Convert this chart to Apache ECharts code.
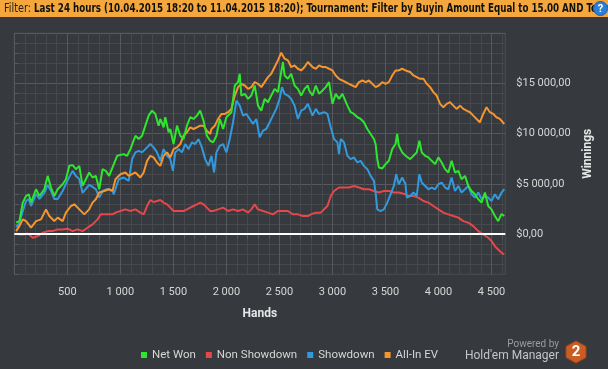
<!DOCTYPE html>
<html><head><meta charset="utf-8">
<script src="https://cdn.jsdelivr.net/npm/echarts@6/dist/echarts.min.js"></script>
<style>html,body{margin:0;padding:0;background:#36393d;}#c{width:608px;height:369px;}</style>
</head><body><div id="c"></div><script>
// ---------- DATA ----------
const seriesNames = ['Net Won', 'Non Showdown', 'Showdown', 'All-In EV'];
const xTickLabels = ['500', '1 000', '1 500', '2 000', '2 500', '3 000', '3 500', '4 000', '4 500'];
const yTickLabels = ['$0,00', '$5 000,00', '$10 000,00', '$15 000,00'];
const filterLabel = 'Filter:';
const filterText = 'Last 24 hours (10.04.2015 18:20 to 11.04.2015 18:20); Tournament: Filter by Buyin Amount Equal to 15.00 AND Tournament';

const netWonHands = [17,48,80,111,136,158,205,237,283,315,346,377,409,456,487,519,550,581,613,644,675,706,738,769,801,832,863,894,907,970,1032,1064,1095,1142,1173,1205,1236,1267,1299,1330,1361,1377,1408,1424,1455,1471,1502,1534,1565,1596,1628,1659,1690,1722,1753,1784,1816,1847,1875,1906,1938,1969,2000,2047,2079,2110,2126,2141,2173,2204,2235,2267,2298,2329,2361,2392,2423,2455,2486,2517,2533,2549,2580,2611,2643,2674,2705,2737,2768,2780,2812,2843,2874,2906,2937,2968,3000,3031,3062,3094,3109,3141,3172,3203,3235,3266,3297,3329,3360,3391,3407,3423,3438,3470,3501,3532,3564,3595,3610,3626,3658,3689,3701,3733,3764,3795,3820,3842,3874,3905,3936,3968,3999,4030,4062,4093,4124,4156,4187,4218,4250,4281,4312,4344,4375,4406,4438,4469,4500,4532,4563,4595,4620];
const netWonValues = [1140,1300,3140,3800,3970,3170,4470,3800,4470,5800,4640,3800,4470,4970,5470,6800,6870,6470,6800,4800,5470,6140,5640,5800,4470,6470,6300,5800,5970,7800,7970,7800,8470,9800,9470,9800,10800,11800,12300,11970,10800,11470,10640,11640,10140,10470,8970,10800,9800,9470,10800,11640,11470,11800,12300,11300,9800,9300,9140,9800,11470,10470,11640,12140,14800,15140,15970,13800,13970,13470,13800,14800,12800,12300,13470,13140,13800,14470,14140,16140,17140,15800,15470,15970,14800,14470,13800,14470,14800,14300,13800,14800,13970,14300,14640,15140,12970,13970,13470,13970,14140,12800,12140,11970,11640,11470,11140,10470,9970,9470,8970,7470,6640,6540,6970,7300,8470,8970,9970,8800,8140,7800,7640,7470,7800,8140,9300,8140,7800,7640,7300,6970,7640,7140,6470,6140,7300,6140,6300,5470,5800,4800,4300,3970,3470,3140,4140,2800,2470,1800,1300,2000,1800];

const nonShowdownHands = [17,48,80,127,174,221,268,315,362,409,456,503,550,597,644,691,738,785,816,863,926,954,1001,1048,1095,1142,1189,1220,1252,1283,1314,1346,1377,1408,1440,1471,1502,1534,1565,1596,1628,1659,1690,1722,1753,1784,1816,1847,1875,1922,1969,2016,2063,2110,2157,2204,2235,2267,2298,2345,2392,2439,2486,2533,2580,2627,2674,2721,2768,2796,2843,2890,2921,2953,2984,3015,3062,3109,3156,3203,3250,3297,3344,3391,3438,3485,3532,3579,3626,3689,3717,3764,3811,3858,3905,3952,3999,4046,4093,4140,4187,4234,4281,4328,4375,4422,4469,4500,4532,4563,4595,4620];
const nonShowdownValues = [70,-30,-30,70,-360,-200,140,300,300,470,470,540,300,470,300,640,970,1470,1970,1970,1970,2140,2300,2470,2300,2470,2140,1970,2800,3400,3200,3300,3400,3140,2970,2640,2300,2300,2300,2300,2470,2640,2800,2970,3140,2970,2640,2300,2300,2470,2640,2300,2470,2300,2470,2140,2470,2970,2470,2300,2140,1970,2300,2300,2300,1970,1970,1800,1800,1970,2140,2140,2470,2800,3800,4300,4640,4640,4640,4800,4640,4470,4470,4300,4140,4300,4300,4140,4140,3970,3800,3800,3640,3300,3140,2800,2470,2140,1970,1800,1640,1300,1140,800,300,-30,-360,-700,-1200,-1530,-1860,-2030];

const showdownHands = [17,48,80,111,136,158,205,237,283,315,346,377,409,456,487,519,550,581,613,644,660,706,738,769,801,832,879,926,938,985,1032,1079,1111,1142,1173,1205,1236,1283,1314,1346,1377,1408,1440,1471,1496,1518,1549,1581,1612,1643,1675,1706,1737,1769,1800,1831,1859,1884,1906,1938,1969,2000,2032,2063,2094,2126,2157,2188,2220,2251,2282,2314,2345,2376,2408,2439,2470,2502,2524,2549,2580,2611,2643,2674,2705,2737,2768,2780,2812,2843,2874,2921,2953,2984,3015,3047,3062,3078,3109,3141,3172,3203,3235,3266,3297,3329,3360,3391,3407,3423,3454,3485,3517,3548,3579,3601,3626,3658,3689,3701,3733,3764,3795,3820,3842,3874,3905,3936,3968,3999,4030,4062,4093,4124,4156,4187,4218,4250,4281,4312,4344,4375,4406,4438,4469,4500,4532,4563,4595,4620];
const showdownValues = [700,1100,2300,3300,3500,2800,4000,3500,4100,4900,4300,3500,3500,4300,5000,5700,6300,5800,5500,4100,3970,4900,4700,4470,3640,4300,4500,4300,3970,5470,5640,5300,7470,8140,8300,8140,8470,8970,8640,8140,7300,8470,7800,7470,6300,8140,8470,8140,8970,8470,9140,8970,9470,8640,7470,6800,7800,6140,8140,8800,8970,8140,9470,11140,13300,12800,11800,11970,11470,10970,11470,9640,10300,10470,11140,11800,12470,13470,14640,13970,13800,13470,12800,11470,12300,12470,12970,12800,11800,12470,11970,12140,11970,10640,9470,9140,7970,9470,9140,7800,7470,7640,7140,7300,6800,6470,5800,5300,4140,2470,2300,2470,3140,3970,4800,5970,4970,5640,4970,3640,3800,4140,3800,5970,5140,4800,4470,4640,4470,4970,5140,4640,4470,5640,4300,4800,4140,4470,4800,3970,3640,4140,3470,3800,3640,3300,3970,3470,4140,4470];

const allInEvHands = [17,48,80,111,158,205,252,299,330,377,409,456,487,534,566,613,660,706,738,769,801,848,894,926,954,1001,1048,1079,1111,1142,1189,1220,1252,1283,1314,1346,1377,1408,1440,1471,1502,1534,1565,1596,1628,1659,1690,1722,1753,1784,1816,1847,1859,1891,1922,1953,1985,2016,2047,2079,2110,2141,2173,2204,2235,2267,2298,2329,2361,2392,2423,2455,2486,2517,2549,2580,2611,2643,2674,2705,2737,2768,2780,2812,2843,2874,2906,2937,2968,3000,3031,3062,3094,3125,3156,3188,3219,3250,3282,3313,3344,3375,3407,3438,3470,3501,3532,3564,3595,3626,3658,3689,3701,3733,3764,3795,3827,3858,3889,3921,3952,3983,4015,4046,4077,4109,4140,4171,4203,4234,4265,4297,4328,4359,4390,4422,4453,4485,4516,4547,4579,4620];
const allInEvValues = [300,800,1470,1300,640,1300,1470,2470,1800,1300,1640,1300,2140,2800,2970,2470,1970,2470,3140,3470,4140,4300,4470,4300,5470,5970,6140,5800,5970,6140,5640,6140,7300,7800,7640,7140,6800,7800,8140,7640,8470,8640,8970,9800,10140,10640,10470,10640,10800,10800,10300,9970,10470,10800,11470,11970,11970,12140,12470,13800,14640,14970,14800,14470,14640,15140,14970,14640,15140,15640,15970,16640,17300,18070,17470,17300,16640,16800,16470,16300,16640,17140,16970,16640,16470,16800,16640,16640,16470,16300,15800,15470,15300,15140,14970,14800,14640,15140,15300,15140,15300,14970,14640,14800,15140,14970,15140,15800,16300,16300,16470,16300,16300,16140,15800,15640,15470,15470,14970,14640,14140,13800,12970,12640,12970,13140,12800,12470,12800,12470,12300,12140,11800,11470,11140,11970,12640,12140,11970,11640,11470,10970];

// ---------- STYLE ----------
const BG = '#36393d', MAJOR = '#56595d', MINOR = '#45484c', TXT = '#d6d6d6';
const COLORS = ['#2fe62f', '#e4484b', '#3399dd', '#f5952f'];
const ZORDER = [6, 2, 3, 4];
const FONT = 'Roboto';
const BAR_FONT = "'DejaVu Sans Condensed', sans-serif";

const pairs = (xs, ys) => xs.map((x, i) => [x, ys[i]]);

// fit the condensed filter-bar text: "Last ... Buyin Amount" spans ~451px in the reference
const ctx = document.createElement('canvas').getContext('2d');
ctx.font = 'bold 12px ' + BAR_FONT;
const refPart = filterText.slice(0, filterText.indexOf('Amount') + 6);
const barScale = 451 / ctx.measureText(refPart).width;
ctx.font = '12px ' + BAR_FONT;
const labelScale = 27 / ctx.measureText(filterLabel).width;

const chart = echarts.init(document.getElementById('c'), null, {renderer: 'canvas'});
const seriesData = [
  pairs(netWonHands, netWonValues),
  pairs(nonShowdownHands, nonShowdownValues),
  pairs(showdownHands, showdownValues),
  pairs(allInEvHands, allInEvValues)
];

chart.setOption({
  animation: false,
  backgroundColor: BG,
  grid: {left: 14.3, top: 33.3, right: 102.7, bottom: 94.7, show: true, borderColor: MAJOR, borderWidth: 1, containLabel: false},
  legend: {
    data: seriesNames, left: 141, top: 349, padding: 0, itemGap: 10,
    icon: 'rect', itemWidth: 6, itemHeight: 6,
    textStyle: {color: TXT, fontSize: 11.5, fontFamily: FONT}
  },
  xAxis: {
    type: 'value', min: 0, max: 4630, interval: 100,
    axisLine: {show: false},
    axisTick: {show: true, length: 5, lineStyle: {color: MAJOR}},
    axisLabel: {
      showMinLabel: false, showMaxLabel: false, margin: 12,
      color: TXT, fontSize: 11, fontFamily: FONT,
      formatter: v => (v > 0 && v % 500 === 0) ? xTickLabels[v / 500 - 1] : ''
    },
    splitLine: {show: true, lineStyle: {color: [MAJOR, MINOR, MINOR, MINOR, MINOR], width: 1}},
    name: 'Hands', nameLocation: 'middle', nameGap: 34,
    nameTextStyle: {color: '#e6e6e6', fontSize: 12, fontWeight: 'bold', fontFamily: FONT}
  },
  yAxis: {
    type: 'value', position: 'right', min: -4000, max: 20000, interval: 1000,
    axisLine: {show: false},
    axisTick: {show: true, length: 4, lineStyle: {color: MAJOR}},
    axisLabel: {
      margin: 11, color: TXT, fontSize: 11, fontFamily: FONT,
      formatter: v => (v >= 0 && v < 20000 && v % 5000 === 0) ? yTickLabels[v / 5000] : ''
    },
    splitLine: {show: true, lineStyle: {color: [MINOR, MINOR, MINOR, MINOR, MAJOR], width: 1}},
    name: 'Winnings', nameLocation: 'middle', nameRotate: 90, nameGap: 70,
    nameTextStyle: {color: '#e6e6e6', fontSize: 12, fontWeight: 'bold', fontFamily: FONT}
  },
  series: seriesNames.map((name, i) => ({
    name, type: 'line', data: seriesData[i], showSymbol: false, symbol: 'none',
    color: COLORS[i], lineStyle: {width: 2, color: COLORS[i]}, z: ZORDER[i],
    markLine: i === 1 ? {
      silent: true, symbol: 'none', label: {show: false},
      lineStyle: {color: '#ffffff', width: 2, type: 'solid'},
      data: [{yAxis: 0}]
    } : undefined
  })),
  graphic: [
    {type: 'rect', shape: {x: 0, y: 0, width: 608, height: 17}, style: {fill: '#f3a73c'}, z: 100},
    {type: 'text', x: 4, y: 9, scaleX: labelScale, z: 101, style: {
      text: filterLabel, fill: '#222222', fontSize: 12, fontFamily: BAR_FONT, verticalAlign: 'middle'}},
    {type: 'text', x: 34, y: 9, scaleX: barScale, z: 101, style: {
      text: filterText, fill: '#111111', fontSize: 12, fontWeight: 'bold', fontFamily: BAR_FONT, verticalAlign: 'middle'}},
    {type: 'circle', shape: {cx: 600.5, cy: 8.5, r: 7}, style: {fill: '#2c7fd4', stroke: '#1d5fa8', lineWidth: 1}, z: 102},
    {type: 'text', x: 600.5, y: 9, z: 103, style: {text: '?', fill: '#ffffff', fontSize: 11, fontWeight: 'bold', fontFamily: FONT, align: 'center', verticalAlign: 'middle'}},
    {type: 'text', x: 559, y: 344, z: 100, style: {text: 'Powered by', fill: '#9a9c9f', fontSize: 10, fontFamily: FONT, align: 'right', verticalAlign: 'middle'}},
    {type: 'text', x: 559, y: 356, z: 100, style: {text: "Hold'em Manager", fill: '#c4c6c8', fontSize: 12, fontFamily: FONT, align: 'right', verticalAlign: 'middle'}},
    {type: 'polygon', shape: {points: [[576, 341], [586, 346.5], [586, 357.5], [576, 363], [566, 357.5], [566, 346.5]]}, style: {fill: '#c95d22', stroke: '#a5481a', lineWidth: 1}, z: 100},
    {type: 'text', x: 576, y: 352.5, z: 101, style: {text: '2', fill: '#ffffff', fontSize: 15, fontWeight: 'bold', fontFamily: FONT, align: 'center', verticalAlign: 'middle'}}
  ]
});
</script></body></html>
